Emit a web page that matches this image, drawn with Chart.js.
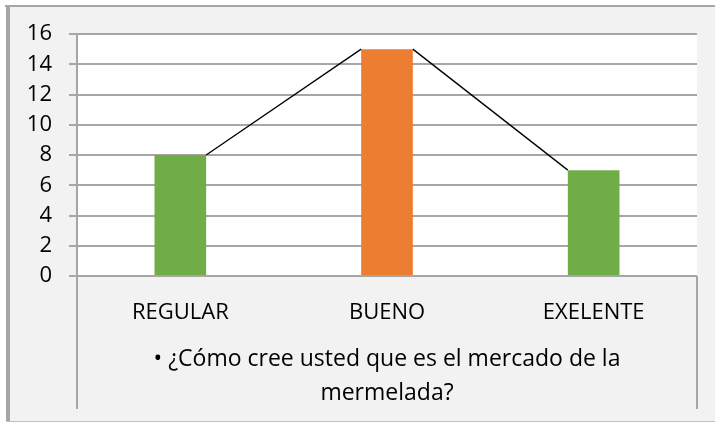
<!DOCTYPE html>
<html>
<head>
<meta charset="utf-8">
<script src="https://cdn.jsdelivr.net/npm/chart.js@4"></script>
<style>
  html, body { margin: 0; padding: 0; background: #ffffff; }
  #wrap { width: 715px; height: 423px; }
</style>
</head>
<body>
<div id="wrap"><canvas id="myChart" width="715" height="423"></canvas></div>
<script>
const categories = ['REGULAR', 'BUENO', 'EXELENTE'];
const values = [8, 15, 7];
const barColors = ['#70ad47', '#ed7d31', '#70ad47'];
const yTicks = [0, 2, 4, 6, 8, 10, 12, 14, 16];
const axisTitle = ['\u2022 \u00bfC\u00f3mo cree usted que es el mercado de la', 'mermelada?'];

const fontFamily = '"Open Sans", "Noto Sans", sans-serif';

// frame + white plot area behind everything
const background = {
    id: 'background',
    beforeDraw(chart) {
        const ctx = chart.ctx;
        const a = chart.chartArea;
        ctx.save();
        ctx.fillStyle = '#ffffff';
        ctx.fillRect(0, 0, chart.width, chart.height);
        ctx.fillStyle = '#f2f2f2';
        ctx.fillRect(6, 6, chart.width - 6, 416);
        ctx.fillStyle = '#ffffff';
        ctx.fillRect(a.left, a.top, a.right - a.left, a.bottom - a.top);
        // borders
        ctx.fillStyle = '#a6a6a6';
        ctx.fillRect(5, 5, chart.width - 5, 2);
        ctx.fillRect(6, 5, 4, 417);
        ctx.fillStyle = '#bfbfbf';
        ctx.fillRect(6, 421, chart.width - 6, 1);
        ctx.restore();
    }
};

// series lines between bar tops + axis box lines under the categories
const seriesLines = {
    id: 'seriesLines',
    afterDatasetsDraw(chart) {
        const ctx = chart.ctx;
        const a = chart.chartArea;
        const bars = chart.getDatasetMeta(0).data;
        ctx.save();
        ctx.strokeStyle = '#000000';
        ctx.lineWidth = 1.3;
        for (let i = 0; i < bars.length - 1; i++) {
            const p = bars[i], q = bars[i + 1];
            ctx.beginPath();
            ctx.moveTo(p.x + p.width / 2, p.y);
            ctx.lineTo(q.x - q.width / 2, q.y);
            ctx.stroke();
        }
        ctx.strokeStyle = '#a6a6a6';
        ctx.lineWidth = 2;
        ctx.beginPath();
        ctx.moveTo(a.left, a.top);
        ctx.lineTo(a.left, 409);
        ctx.moveTo(a.right, a.bottom);
        ctx.lineTo(a.right, 409);
        ctx.stroke();
        ctx.restore();
    }
};

const ctx = document.getElementById('myChart').getContext('2d');
const chart = new Chart(ctx, {
    type: 'bar',
    data: {
        labels: categories,
        datasets: [{
            data: values,
            backgroundColor: barColors,
            borderWidth: 0,
            categoryPercentage: 1,
            barPercentage: 0.25
        }]
    },
    options: {
        responsive: false,
        animation: false,
        layout: { padding: { left: 10, right: 18, top: 34, bottom: 0 } },
        plugins: {
            legend: { display: false },
            tooltip: { enabled: false }
        },
        scales: {
            x: {
                grid: { display: false },
                border: { display: false },
                ticks: { color: '#000', padding: 16, font: { family: fontFamily, size: 22 } },
                title: {
                    display: true,
                    text: axisTitle,
                    color: '#000',
                    font: { family: fontFamily, size: 23, lineHeight: 1.5 },
                    padding: { top: 0, bottom: 12 }
                },
                afterFit(scale) { scale.height = 147; }
            },
            y: {
                min: 0,
                max: 16,
                afterBuildTicks(scale) { scale.ticks = yTicks.map(v => ({ value: v })); },
                grid: { color: '#a6a6a6', lineWidth: 2, tickLength: 8 },
                border: { display: true, color: '#a6a6a6', width: 2 },
                ticks: { color: '#000', padding: 17, font: { family: fontFamily, size: 22 } },
                afterFit(scale) { scale.width = 67; }
            }
        }
    },
    plugins: [background, seriesLines]
});
</script>
</body>
</html>
